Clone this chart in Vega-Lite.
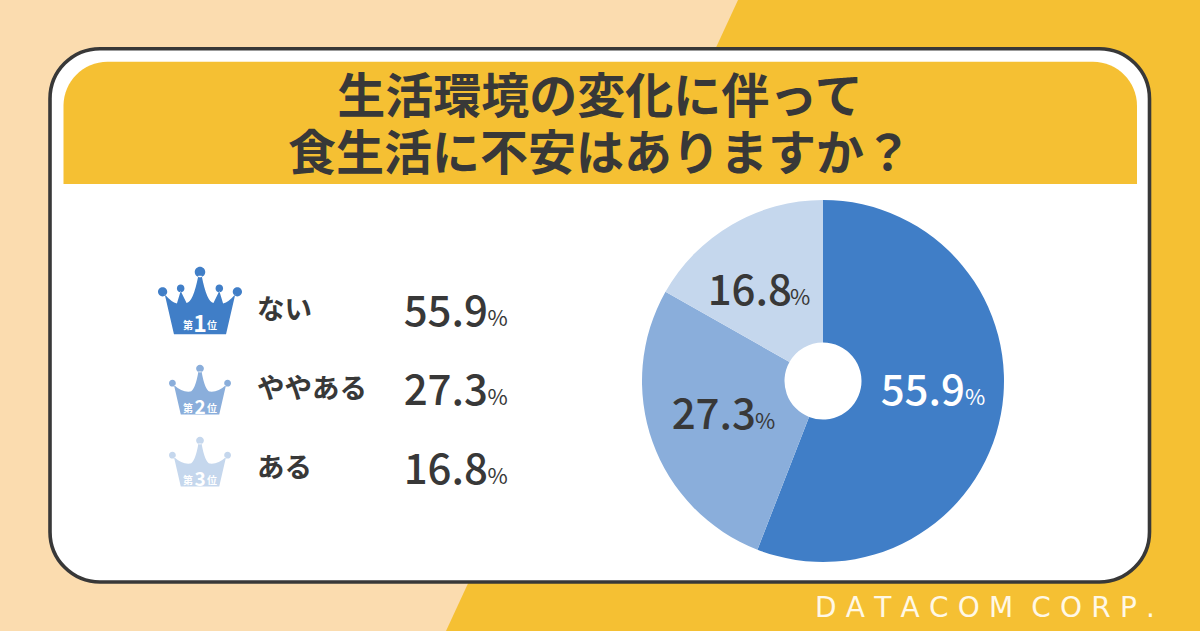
{"$schema":"https://vega.github.io/schema/vega-lite/v6.json","width":1200,"height":631,"padding":0,"autosize":{"type":"fit","contains":"padding"},"background":"#FBDCAF","config":{"view":{"stroke":null},"axis":{"disable":true},"legend":{"disable":true},"text":{"font":"Noto Sans CJK JP"}},"datasets":{"rows":[{"rank":1,"label":"ない","value":55.9,"pct":"%","pre":"第","post":"位"},{"rank":2,"label":"ややある","value":27.3,"pct":"%","pre":"第","post":"位"},{"rank":3,"label":"ある","value":16.8,"pct":"%","pre":"第","post":"位"}]},"data":{"name":"rows"},"resolve":{"scale":{"x":"independent","y":"independent","color":"independent","theta":"independent","size":"independent"}},"layer":[
{"data":{"values":[{"px":446,"py":631},{"px":738,"py":0},{"px":1200,"py":0}]},"mark":{"type":"area","color":"#F5C033"},"encoding":{"x":{"field":"px","type":"quantitative","scale":{"domain":[0,1200]}},"y":{"field":"py","type":"quantitative","scale":{"domain":[631,0]}},"y2":{"datum":631}}},
{"data":{"values":[{"part":"card"}]},"mark":{"type":"rect","color":"#FFFFFF","stroke":"#383838","strokeWidth":3.6,"cornerRadius":50},"encoding":{"x":{"datum":50,"scale":{"domain":[0,1200]}},"x2":{"datum":1149.5},"y":{"datum":48.7,"scale":{"domain":[631,0]}},"y2":{"datum":582}}},
{"data":{"values":[{"part":"header"}]},"mark":{"type":"rect","color":"#F5C033","cornerRadiusTopLeft":44,"cornerRadiusTopRight":44},"encoding":{"x":{"datum":63.5,"scale":{"domain":[0,1200]}},"x2":{"datum":1137},"y":{"datum":61.7,"scale":{"domain":[631,0]}},"y2":{"datum":184}}},
{"data":{"values":[{"t":"生活環境の変化に伴って\n食生活に不安はありますか？"}]},"mark":{"type":"text","fontSize":48,"fontWeight":"bold","color":"#383838","align":"center","baseline":"middle","lineBreak":"\n","lineHeight":57},"encoding":{"text":{"field":"t"},"x":{"datum":600,"scale":{"domain":[0,1200]}},"y":{"datum":98.5,"scale":{"domain":[631,0]}}}},
{"data":{"values":[{"t":"D\u2004A\u2004T\u2004A\u2004C\u2004O\u2004M \u2004C\u2004O\u2004R\u2004P\u2004."}]},"mark":{"type":"text","fontSize":28,"font":"DejaVu Sans","color":"#FFF8E6","align":"right","baseline":"alphabetic"},"encoding":{"text":{"field":"t"},"x":{"datum":1155,"scale":{"domain":[0,1200]}},"y":{"datum":617,"scale":{"domain":[631,0]}}}},
{"mark":{"type":"arc","outerRadius":181,"innerRadius":38.5},"encoding":{"theta":{"field":"value","type":"quantitative","stack":true,"scale":{"domain":[0,100]}},"order":{"field":"rank"},"color":{"field":"label","type":"nominal","scale":{"domain":["ない","ややある","ある"],"range":["#407EC7","#8AAEDB","#C5D7ED"]}},"x":{"datum":823,"scale":{"domain":[0,1200]}},"y":{"datum":381,"scale":{"domain":[631,0]}}}},
{"mark":{"type":"text","fontSize":42,"fontWeight":500,"align":"right","baseline":"alphabetic"},"encoding":{"text":{"field":"value","format":".1f"},"x":{"field":"rank","type":"quantitative","scale":{"domain":[1,2,3],"range":[965,756,792]}},"y":{"field":"rank","type":"quantitative","scale":{"domain":[1,2,3],"range":[405,429,305]}},"color":{"field":"label","type":"nominal","scale":{"domain":["ない","ややある","ある"],"range":["#FFFFFF","#383838","#383838"]}}}},
{"mark":{"type":"text","fontSize":22,"fontWeight":400,"align":"left","baseline":"alphabetic"},"encoding":{"text":{"field":"pct"},"x":{"field":"rank","type":"quantitative","scale":{"domain":[1,2,3],"range":[965,755,790]}},"y":{"field":"rank","type":"quantitative","scale":{"domain":[1,2,3],"range":[405,429,305]}},"color":{"field":"label","type":"nominal","scale":{"domain":["ない","ややある","ある"],"range":["#FFFFFF","#383838","#383838"]}}}},
{"mark":{"type":"text","fontSize":42,"fontWeight":500,"align":"right","baseline":"alphabetic","color":"#383838"},"encoding":{"text":{"field":"value","format":".1f"},"x":{"datum":488,"scale":{"domain":[0,1200]}},"y":{"field":"rank","type":"quantitative","scale":{"domain":[1,2,3],"range":[326,405,484]}}}},
{"mark":{"type":"text","fontSize":22,"fontWeight":400,"align":"left","baseline":"alphabetic","color":"#383838"},"encoding":{"text":{"field":"pct"},"x":{"datum":487.5,"scale":{"domain":[0,1200]}},"y":{"field":"rank","type":"quantitative","scale":{"domain":[1,2,3],"range":[326,405,484]}}}},
{"mark":{"type":"text","fontSize":27.5,"fontWeight":"bold","align":"left","baseline":"middle","color":"#383838"},"encoding":{"text":{"field":"label"},"x":{"datum":257,"scale":{"domain":[0,1200]}},"y":{"field":"rank","type":"quantitative","scale":{"domain":[1,2,3],"range":[310.5,389.5,468.5]}}}},
{"transform":[{"filter":"datum.rank === 1"}],"mark":{"type":"point","filled":true,"opacity":1,"size":7056,"shape":"M-.62 .79L-.84 -.16Q-.68 .03 -.55 .06L-.46 -.24L-.32 .05Q-.16 .02 -.04 -.6L.04 -.6Q.16 .02 .32 .05L.46 -.24L.55 .06Q.68 .03 .84 -.16L.62 .79ZM-.125 -.69a.125 .125 0 1 0 .25 0a.125 .125 0 1 0 -.25 0ZM-1 -.22a.11 .11 0 1 0 .22 0a.11 .11 0 1 0 -.22 0ZM.78 -.22a.11 .11 0 1 0 .22 0a.11 .11 0 1 0 -.22 0ZM-.55 -.3a.09 .09 0 1 0 .18 0a.09 .09 0 1 0 -.18 0ZM.37 -.3a.09 .09 0 1 0 .18 0a.09 .09 0 1 0 -.18 0Z"},"encoding":{"x":{"datum":200,"scale":{"domain":[0,1200]}},"y":{"datum":301,"scale":{"domain":[631,0]}},"color":{"field":"label","type":"nominal","scale":{"domain":["ない","ややある","ある"],"range":["#407EC7","#8AAEDB","#C5D7ED"]}}}},
{"transform":[{"filter":"datum.rank > 1"}],"mark":{"type":"point","filled":true,"opacity":1,"size":3844,"shape":"M-.62 .79L-.84 -.16Q-.58 .08 -.32 .05Q-.16 .02 -.05 -.6L.05 -.6Q.16 .02 .32 .05Q.58 .08 .84 -.16L.62 .79ZM-.125 -.69a.125 .125 0 1 0 .25 0a.125 .125 0 1 0 -.25 0ZM-1 -.22a.11 .11 0 1 0 .22 0a.11 .11 0 1 0 -.22 0ZM.78 -.22a.11 .11 0 1 0 .22 0a.11 .11 0 1 0 -.22 0Z"},"encoding":{"x":{"datum":200,"scale":{"domain":[0,1200]}},"y":{"field":"rank","type":"quantitative","scale":{"domain":[2,3],"range":[390,462]}},"color":{"field":"label","type":"nominal","scale":{"domain":["ない","ややある","ある"],"range":["#407EC7","#8AAEDB","#C5D7ED"]}}}},
{"mark":{"type":"text","fontWeight":"bold","align":"center","baseline":"middle","color":"#FFFFFF"},"encoding":{"text":{"field":"rank"},"size":{"field":"rank","type":"quantitative","scale":{"domain":[1,2,3],"range":[23,19,19]}},"x":{"datum":200,"scale":{"domain":[0,1200]}},"y":{"field":"rank","type":"quantitative","scale":{"domain":[1,2,3],"range":[325,408,480]}}}},
{"mark":{"type":"text","fontWeight":"bold","align":"center","baseline":"middle","color":"#FFFFFF","fontSize":10,"dx":-12},"encoding":{"text":{"field":"pre"},"x":{"datum":200,"scale":{"domain":[0,1200]}},"y":{"field":"rank","type":"quantitative","scale":{"domain":[1,2,3],"range":[326,409,481]}}}},
{"mark":{"type":"text","fontWeight":"bold","align":"center","baseline":"middle","color":"#FFFFFF","fontSize":10,"dx":12},"encoding":{"text":{"field":"post"},"x":{"datum":200,"scale":{"domain":[0,1200]}},"y":{"field":"rank","type":"quantitative","scale":{"domain":[1,2,3],"range":[326,409,481]}}}}
]}
